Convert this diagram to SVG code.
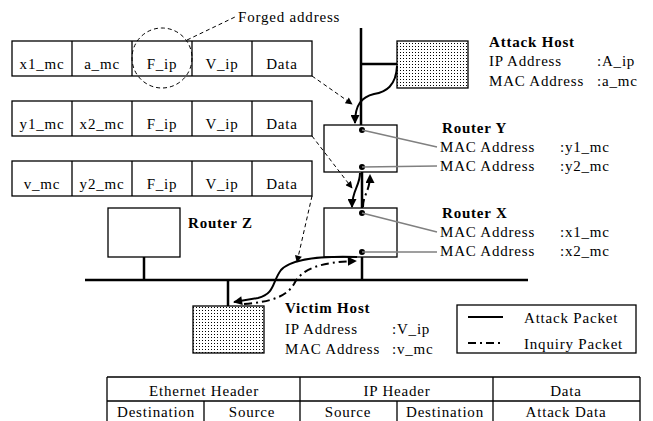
<svg xmlns="http://www.w3.org/2000/svg" width="653" height="421" viewBox="0 0 653 421">
<style>
text{font-family:"Liberation Serif","Times New Roman",serif;font-size:15px;fill:#000;letter-spacing:0.8px}
.b{font-weight:bold}
.c{text-anchor:middle}
.box{fill:#fff;stroke:#000;stroke-width:1.3}
.host{fill:url(#dots);stroke:#000;stroke-width:1.3}
.net{stroke:#000;stroke-width:2.5;fill:none}
.lead{stroke:#808080;stroke-width:1.5;fill:none}
.thin{stroke:#000;stroke-width:1;fill:none;stroke-dasharray:4 3}
.atk{stroke:#000;stroke-width:2;fill:none}
.inq{stroke:#000;stroke-width:2;fill:none;stroke-dasharray:8 4 2 4}
.cell{fill:none;stroke:#000;stroke-width:1.3}
</style>
<defs>
<pattern id="dots" width="3" height="3" patternUnits="userSpaceOnUse">
<rect width="3" height="3" fill="#fff"/>
<rect x="1" y="1" width="1" height="1" fill="#000"/>
</pattern>
<marker id="ah" viewBox="0 0 10 10" refX="9" refY="5" markerWidth="10" markerHeight="9" markerUnits="userSpaceOnUse" orient="auto">
<path d="M0,0 L10,5 L0,10 z" fill="#000"/>
</marker>
<marker id="as" viewBox="0 0 10 10" refX="9" refY="5" markerWidth="8" markerHeight="7" markerUnits="userSpaceOnUse" orient="auto">
<path d="M0,0 L10,5 L0,10 z" fill="#000"/>
</marker>
</defs>
<rect width="653" height="421" fill="#fff"/>

<g id="packet1">
<rect class="cell" x="12" y="41" width="300" height="35"/>
<path class="cell" d="M72,41V76M132,41V76M192,41V76M252,41V76"/>
<text class="c" x="42" y="69">x1_mc</text>
<text class="c" x="102" y="69">a_mc</text>
<text class="c" x="162" y="69">F_ip</text>
<text class="c" x="222" y="69">V_ip</text>
<text class="c" x="282" y="69">Data</text>
</g>
<g id="packet2">
<rect class="cell" x="12" y="101" width="300" height="35"/>
<path class="cell" d="M72,101V136M132,101V136M192,101V136M252,101V136"/>
<text class="c" x="42" y="129">y1_mc</text>
<text class="c" x="102" y="129">x2_mc</text>
<text class="c" x="162" y="129">F_ip</text>
<text class="c" x="222" y="129">V_ip</text>
<text class="c" x="282" y="129">Data</text>
</g>
<g id="packet3">
<rect class="cell" x="12" y="161" width="300" height="35"/>
<path class="cell" d="M72,161V196M132,161V196M192,161V196M252,161V196"/>
<text class="c" x="42" y="189">v_mc</text>
<text class="c" x="102" y="189">y2_mc</text>
<text class="c" x="162" y="189">F_ip</text>
<text class="c" x="222" y="189">V_ip</text>
<text class="c" x="282" y="189">Data</text>
</g>

<g id="forged">
<circle cx="162" cy="58" r="30" fill="none" stroke="#000" stroke-width="1" stroke-dasharray="4 3"/>
<path class="thin" d="M187,40 L235,17"/>
<text x="238" y="22">Forged address</text>
</g>

<g id="network">
<path class="net" d="M361,28 V125 M361,64 H397 M362,172 V208 M362,257 V280 M85,280 H528 M144,257 V280 M228,280 V306"/>
</g>

<g id="attack-host">
<rect class="host" x="397" y="41" width="71" height="47"/>
<text class="b" x="489" y="47">Attack Host</text>
<text x="489" y="66">IP Address</text>
<text x="597" y="66">:A_ip</text>
<text x="489" y="86">MAC Address</text>
<text x="597" y="86">:a_mc</text>
</g>

<g id="router-y">
<rect class="box" x="324" y="125" width="73" height="47"/>
<circle cx="362" cy="130" r="3"/>
<circle cx="362" cy="167" r="3"/>
<path class="lead" d="M362,130 L437,147 M362,167 L437,166"/>
<text class="b" x="442" y="133">Router Y</text>
<text x="440" y="152">MAC Address</text>
<text x="560" y="152">:y1_mc</text>
<text x="440" y="171">MAC Address</text>
<text x="560" y="171">:y2_mc</text>
</g>

<g id="router-x">
<rect class="box" x="324" y="208" width="73" height="49"/>
<circle cx="362" cy="213" r="3"/>
<circle cx="362" cy="252" r="3"/>
<path class="lead" d="M362,213 L437,232 M362,252 L437,252"/>
<text class="b" x="442" y="218">Router X</text>
<text x="440" y="237">MAC Address</text>
<text x="560" y="237">:x1_mc</text>
<text x="440" y="256">MAC Address</text>
<text x="560" y="256">:x2_mc</text>
</g>

<g id="router-z">
<rect class="box" x="108" y="208" width="72" height="49"/>
<text class="b" x="188" y="228">Router Z</text>
</g>

<g id="victim-host">
<rect class="host" x="193" y="306" width="71" height="47"/>
<text class="b" x="285" y="313">Victim Host</text>
<text x="285" y="334">IP Address</text>
<text x="392" y="334">:V_ip</text>
<text x="285" y="354">MAC Address</text>
<text x="392" y="354">:v_mc</text>
</g>

<g id="legend">
<rect class="box" x="457" y="305" width="179" height="48"/>
<path class="atk" d="M468,317 H503"/>
<path class="inq" d="M468,343 H503"/>
<text x="524" y="323">Attack Packet</text>
<text x="524" y="349">Inquiry Packet</text>
</g>

<g id="connectors">
<path class="thin" d="M312,76 L352,104" marker-end="url(#as)"/>
<path class="thin" d="M312,136 L352,188" marker-end="url(#as)"/>
<path class="thin" d="M312,196 L297,262" marker-end="url(#as)"/>
<path class="atk" d="M397,66 C396,86 386,92 374,94 C362,97 355,104 355,123" marker-end="url(#ah)"/>
<path class="atk" d="M360,173 C360,186 352,190 352,207" marker-end="url(#ah)"/>
<path class="inq" d="M363,207 C363,195 370,191 370,175" marker-end="url(#ah)"/>
<path class="atk" d="M357,257 C322,256 292,258 281,270 C272,282 275,294 258,298 L234,302" marker-end="url(#ah)"/>
<path class="inq" d="M244,304 C272,302 287,296 294,284 C302,268 322,262 356,261" marker-end="url(#ah)"/>
</g>

<g id="table">
<path class="cell" d="M107,377 H640 M107,401 H640 M107,377 V421 M640,377 V421 M300,377 V421 M493,377 V421 M204,401 V421 M397,401 V421"/>
<text class="c" x="204" y="396">Ethernet Header</text>
<text class="c" x="397" y="396">IP Header</text>
<text class="c" x="566" y="396">Data</text>
<text class="c" x="156" y="417">Destination</text>
<text class="c" x="252" y="417">Source</text>
<text class="c" x="348" y="417">Source</text>
<text class="c" x="445" y="417">Destination</text>
<text class="c" x="566" y="417">Attack Data</text>
</g>
</svg>
